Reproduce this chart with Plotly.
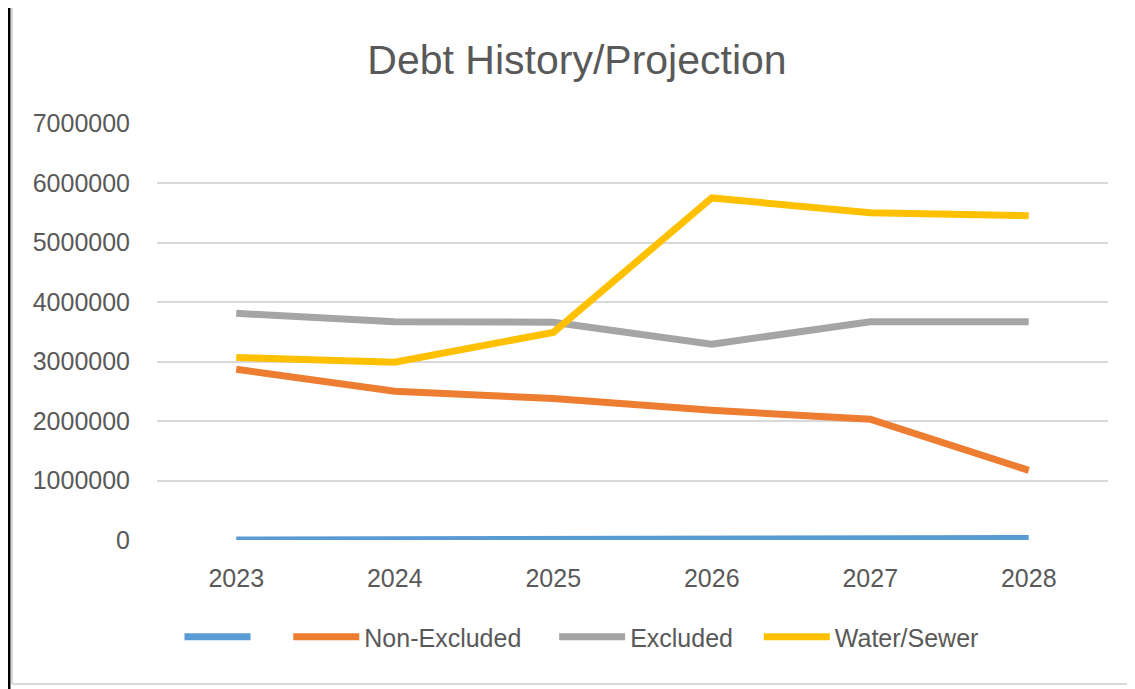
import plotly.graph_objects as go

# ─── Datos ────────────────────────────────────────────────────────────
years = ["2023", "2024", "2025", "2026", "2027", "2028"]
blank_series = [0, 0, 0, 0, 25000, 25000]
non_excluded = [2870000, 2500000, 2380000, 2180000, 2030000, 1170000]
excluded = [3810000, 3670000, 3660000, 3290000, 3670000, 3670000]
water_sewer = [3070000, 2990000, 3490000, 5750000, 5500000, 5450000]
y_ticks = [0, 1000000, 2000000, 3000000, 4000000, 5000000, 6000000, 7000000]

# ─── Colores ──────────────────────────────────────────────────────────
AZUL = "#5B9BD5"
NARANJA = "#ED7D31"
GRIS = "#A5A5A5"
AMARILLO = "#FFC000"
TEXTO = "#595959"
REJILLA = "#D9D9D9"

# la página pone 8px de margen al body: se resta de todas las posiciones
OFF = 8
W, H = 1135 - OFF, 689 - OFF
L, R, T, B = 157 - OFF, 1108 - OFF, 123 - OFF, 540 - OFF   # área del gráfico


def px_x(x):
    return (x - OFF - L) / (R - L)


def px_y(y):
    return (B - (y - OFF)) / (B - T)


NB = "\u00a0"
fig = go.Figure()

for name, vals, color in [
    (NB * 4, blank_series, AZUL),
    ("Non-Excluded" + NB * 4, non_excluded, NARANJA),
    ("Excluded" + NB * 3, excluded, GRIS),
    ("Water/Sewer", water_sewer, AMARILLO),
]:
    fig.add_trace(go.Scatter(
        x=years, y=vals, mode="lines", name=name,
        line=dict(color=color, width=7),
    ))

shapes = [
    # marco exterior negro (izquierda)
    dict(type="line", xref="paper", yref="paper",
         x0=px_x(9), x1=px_x(9), y0=px_y(OFF - 2), y1=px_y(700),
         line=dict(color="black", width=3)),
    # borde gris interior
    dict(type="line", xref="paper", yref="paper",
         x0=px_x(12), x1=px_x(12), y0=px_y(OFF - 2), y1=px_y(684),
         line=dict(color=REJILLA, width=2)),
    dict(type="line", xref="paper", yref="paper",
         x0=px_x(12), x1=px_x(1140), y0=px_y(684), y1=px_y(684),
         line=dict(color=REJILLA, width=2)),
]

fig.update_layout(
    width=W, height=H,
    margin=dict(l=L, r=W - R, t=T, b=H - B),
    paper_bgcolor="white",
    plot_bgcolor="white",
    font=dict(family="Liberation Sans, Arial, sans-serif", color=TEXTO, size=25),
    title=dict(
        text="Debt History/Projection",
        x=(577 - OFF) / W, xanchor="center", xref="container",
        y=1 - (60 - OFF) / H, yanchor="middle", yref="container",
        font=dict(size=41, color=TEXTO),
    ),
    xaxis=dict(
        type="category", range=[-0.5, 5.5], showgrid=False, zeroline=False,
        showline=False, ticks="", ticklabelstandoff=21,
        tickfont=dict(size=25, color=TEXTO),
    ),
    yaxis=dict(
        range=[0, 7010000], tickvals=y_ticks,
        tickformat="d", showgrid=True, gridcolor=REJILLA, gridwidth=2,
        zeroline=False, showline=False, ticks="", ticklabelstandoff=26,
        tickfont=dict(size=25, color=TEXTO),
    ),
    legend=dict(
        orientation="h", x=0.5 * (px_x(180) + px_x(983)), xanchor="center",
        y=px_y(637), yanchor="middle",
        font=dict(size=25, color=TEXTO),
        itemwidth=66,
    ),
    showlegend=True,
    shapes=shapes,
)

fig.write_html("out.html")
